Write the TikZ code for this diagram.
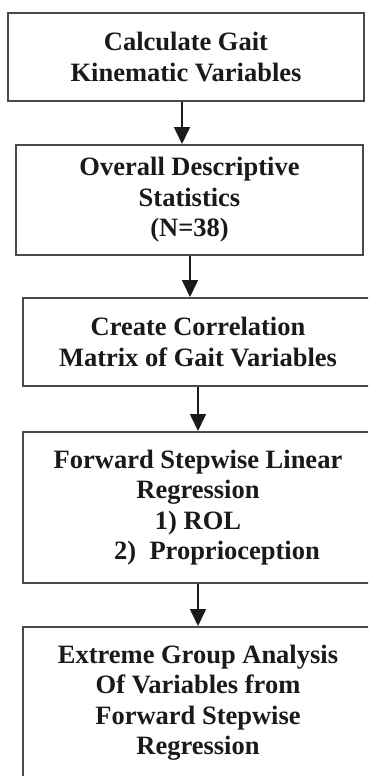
\documentclass[tikz,border=0pt]{standalone}
\usepackage{fontspec}
\setmainfont{Liberation Serif}
\usetikzlibrary{arrows.meta}
\definecolor{boxline}{HTML}{4A4A4A}
\definecolor{inkc}{HTML}{1A1A1A}
\tikzset{
  flowbox/.style={draw=boxline, line width=2pt, rectangle, inner sep=0pt, align=center,
    text=inkc, font=\fontsize{26.5}{30.5}\selectfont\bfseries, fill=white},
  flowarrow/.style={draw=inkc, line width=1.6pt, -{Triangle[length=17pt,width=16pt]}}
}
\begin{document}
\begin{tikzpicture}[x=1pt,y=-1pt]
\useasboundingbox (0,0) rectangle (368,776);
\clip (0,0) rectangle (368,776);
\fill[white] (0,0) rectangle (368,776);
\node[flowbox, minimum width=356pt, minimum height=88pt] (b1) at (186,57)
  {Calculate Gait\\Kinematic Variables};
\node[flowbox, minimum width=347pt, minimum height=110pt] (b2) at (189.5,200)
  {Overall Descriptive\\Statistics\\(N=38)};
\node[flowbox, minimum width=350pt, minimum height=88pt] (b3) at (198,342)
  {Create Correlation\\Matrix of Gait Variables};
\node[flowbox, minimum width=350pt, minimum height=151pt] (b4) at (198,507.5)
  {Forward Stepwise Linear\\Regression\\1) ROL\\\hspace*{38pt}2)\ \ Proprioception};
\node[flowbox, minimum width=350pt, minimum height=176pt] (b5) at (198,715)
  {Extreme Group Analysis\\Of Variables from\\Forward Stepwise\\Regression\\\mbox{}};
\coordinate (a1) at (182,0);
\coordinate (a2) at (190,0);
\coordinate (a3) at (198,0);
\draw[flowarrow] (b1.south -| a1) -- (b2.north -| a1);
\draw[flowarrow] (b2.south -| a2) -- (b3.north -| a2);
\draw[flowarrow] (b3.south -| a3) -- (b4.north -| a3);
\draw[flowarrow] (b4.south -| a3) -- (b5.north -| a3);
\end{tikzpicture}
\end{document}
